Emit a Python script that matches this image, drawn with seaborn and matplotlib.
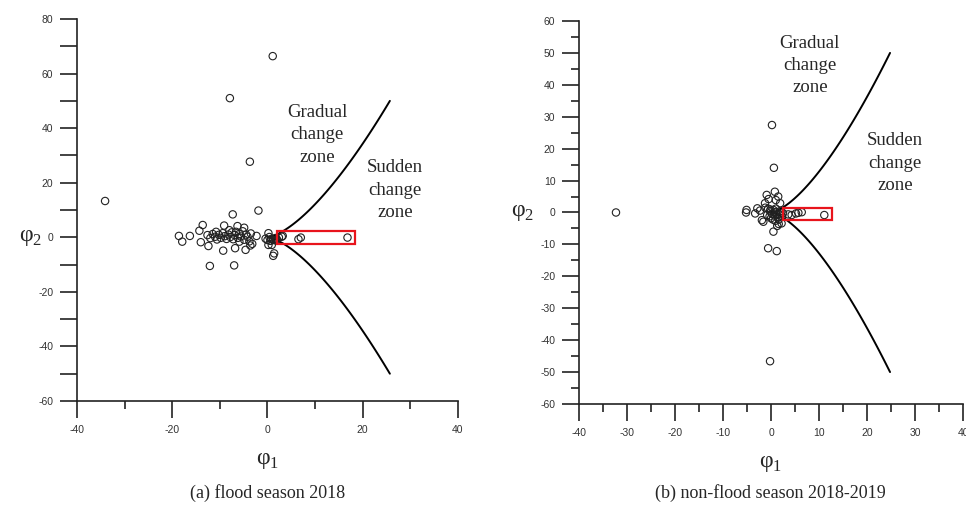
import numpy as np
import pandas as pd
import seaborn as sns
import matplotlib.pyplot as plt
from matplotlib.patches import Rectangle
from matplotlib.ticker import MultipleLocator
import matplotlib.transforms as mtransforms

# point values
flood_phi1 = [1.1, -7.9, -3.7, -1.9, -34.1, -7.3, -13.6, -14.3, -18.6, -17.9, -16.3, -14.0,
              -12.4, -12.1, -7.0, -9.3, -6.8, -4.6, -9.1, -6.3, -4.9,
              -12.6, -12.0, -11.5, -11.0, -10.6, -10.2, -9.8, -9.4, -9.0, -8.6, -8.2, -7.8,
              -7.5, -7.2, -6.9, -6.6, -6.2, -5.9, -5.6, -5.2, -4.9, -4.5, -4.2, -3.8, -3.5,
              -3.2, -3.6, -8.0, -10.8, -5.9,
              -2.3, 0.2, -0.4, 0.0, 0.4, 0.8, 1.2, 1.6, 2.0, 2.4, 0.6, 1.8, 3.0, 3.2,
              0.2, 0.9, 1.4, 1.2,
              6.5, 7.0, 16.8]
flood_phi2 = [66.4, 51.0, 27.7, 9.8, 13.3, 8.4, 4.5, 2.4, 0.5, -1.6, 0.5, -1.8,
              -3.2, -10.5, -10.3, -4.9, -4.0, -4.6, 4.3, 4.1, 3.5,
              0.8, -0.3, 1.2, 0.2, -0.8, 0.9, -0.2, 1.5, 0.4, -0.6, 1.0, 0.1,
              1.8, -0.7, 0.8, 2.0, -0.2, 1.2, 0.3, 2.2, -0.9, 1.0, 0.2, -1.5, 1.4,
              -2.4, -3.0, 2.6, 2.0, -1.6,
              0.5, 1.5, -0.5, -1.0, 0.1, -0.6, -1.0, -0.3, -0.8, -0.1, -1.3, -1.2, 0.2, 0.5,
              -2.8, -2.8, -5.9, -6.8,
              -0.7, -0.1, -0.1]

nonflood_phi1 = [-32.3, 0.2, 0.6, -0.2, -0.6, 1.2,
                 -5.1, -5.2, -3.3, -2.85, -1.9, -1.6, -0.9, -1.25, 0.8, 1.5, 1.9, 1.0, -0.5,
                 -1.2, 0.5, 1.3, 1.6, 2.2, -0.8, -2.3,
                 -0.6, -0.2, 0.2, 0.5, 0.8, 1.1, 1.4, 1.7, 2.0, 2.3, 0.0, 0.4, -0.3, 1.0,
                 1.6, 2.5, 0.7, 1.2, -0.1, 0.9,
                 3.6, 4.3, 5.2, 5.7, 6.4, 11.1]
nonflood_phi2 = [0.0, 27.4, 14.0, -46.6, -11.2, -12.1,
                 0.8, 0.0, -0.3, 1.3, -2.4, -2.9, 5.5, 2.9, 6.5, 5.0, 2.9, 3.9, 4.2,
                 1.5, -6.0, -4.2, -3.6, -3.4, -0.8, 0.6,
                 1.2, 0.4, -0.4, 0.8, -1.0, 0.2, -1.6, -0.6, 0.5, -1.2, -1.8, -2.2, -1.2, 1.2,
                 -2.2, -0.2, 0.0, -0.8, 0.9, -2.6,
                 -0.6, -0.8, -0.3, -0.1, 0.1, -0.8]

# cusp boundary end points (phi1, |phi2|)
flood_curve_end = (25.7, 50)
nonflood_curve_end = (24.8, 50)

# red highlight boxes: (phi1 min, phi1 max, phi2 min, phi2 max)
flood_box = (2.1, 18.4, -2.3, 2.3)
nonflood_box = (2.6, 12.8, -2.4, 1.5)

titles = ["(a) flood season 2018", "(b) non-flood season 2018-2019"]

sns.set_style("ticks")
plt.rcParams['font.family'] = ['Liberation Sans', 'DejaVu Sans']
plt.rcParams['mathtext.fontset'] = 'custom'
plt.rcParams['mathtext.rm'] = 'Liberation Serif'
plt.rcParams['axes.unicode_minus'] = False

fig = plt.figure(figsize=(9.66, 5.17), dpi=100)
ax1 = fig.add_axes([0.0797, 0.2244, 0.3944, 0.7388])
ax2 = fig.add_axes([0.5994, 0.2186, 0.3975, 0.7408])


def cusp_curve(end):
    t = np.linspace(0, 1, 60)
    x = end[0] * t
    y = end[1] * t ** 1.5
    return pd.DataFrame({"x": np.concatenate([x[::-1], x]),
                         "y": np.concatenate([-y[::-1], y])})


def draw_panel(ax, p1, p2, end, box, xlim, ylim, xmaj, xmin, ymaj, ymin, ylab_x,
               grad_pos, sud_pos):
    curve = cusp_curve(end)
    sns.lineplot(data=curve, x="x", y="y", sort=False, color="black", lw=1.4,
                 ax=ax, estimator=None)
    df = pd.DataFrame({"phi1": p1, "phi2": p2})
    sns.scatterplot(data=df, x="phi1", y="phi2", ax=ax, s=28, facecolor="none",
                    edgecolor="#222222", linewidth=0.8, zorder=3)
    ax.add_patch(Rectangle((box[0], box[2]), box[1] - box[0], box[3] - box[2],
                           fill=False, edgecolor="#e8141c", lw=1.6, zorder=4))
    ax.set_xlim(*xlim)
    ax.set_ylim(*ylim)
    ax.xaxis.set_major_locator(MultipleLocator(xmaj))
    ax.xaxis.set_minor_locator(MultipleLocator(xmin))
    ax.yaxis.set_major_locator(MultipleLocator(ymaj))
    ax.yaxis.set_minor_locator(MultipleLocator(ymin))
    for s in ["top", "right"]:
        ax.spines[s].set_visible(False)
    for s in ["left", "bottom"]:
        ax.spines[s].set_linewidth(1.2)
        ax.spines[s].set_color("#222222")
    ax.tick_params(which="major", direction="out", length=12, width=1.2,
                   color="#222222", labelsize=7.5, labelcolor="#333333", pad=5)
    ax.tick_params(which="minor", direction="out", length=6, width=1.2,
                   color="#222222")
    ax.set_xlabel("")
    ax.set_ylabel("")
    ax.text(0.5, -0.155, r"$\mathrm{φ}_1$", transform=ax.transAxes, ha="center",
            va="center", fontsize=17)
    tr = mtransforms.blended_transform_factory(ax.transAxes, ax.transData)
    ax.text(ylab_x, 0, r"$\mathrm{φ}_2$", transform=tr, ha="center", va="center",
            fontsize=17)
    ax.text(*grad_pos, "Gradual\nchange\nzone", ha="center", va="center",
            fontsize=13.5, family="Liberation Serif", linespacing=1.4)
    ax.text(*sud_pos, "Sudden\nchange\nzone", ha="center", va="center",
            fontsize=13.5, family="Liberation Serif", linespacing=1.4)


draw_panel(ax1, flood_phi1, flood_phi2, flood_curve_end, flood_box,
           (-40, 40), (-60, 80), 20, 10, 20, 10, -0.123, (10.4, 37.5), (26.8, 17.3))
draw_panel(ax2, nonflood_phi1, nonflood_phi2, nonflood_curve_end, nonflood_box,
           (-40, 40), (-60, 60), 10, 5, 10, 5, -0.148, (8.1, 46.0), (25.8, 15.5))

# left panel: every 10 units ticks full length
ax1.tick_params(axis="y", which="minor", length=12)

fig.text(0.2774, 0.046, titles[0], ha="center", va="center", fontsize=13,
         family="Liberation Serif")
fig.text(0.798, 0.046, titles[1], ha="center", va="center", fontsize=13,
         family="Liberation Serif")

plt.savefig("out.png", dpi=100)
